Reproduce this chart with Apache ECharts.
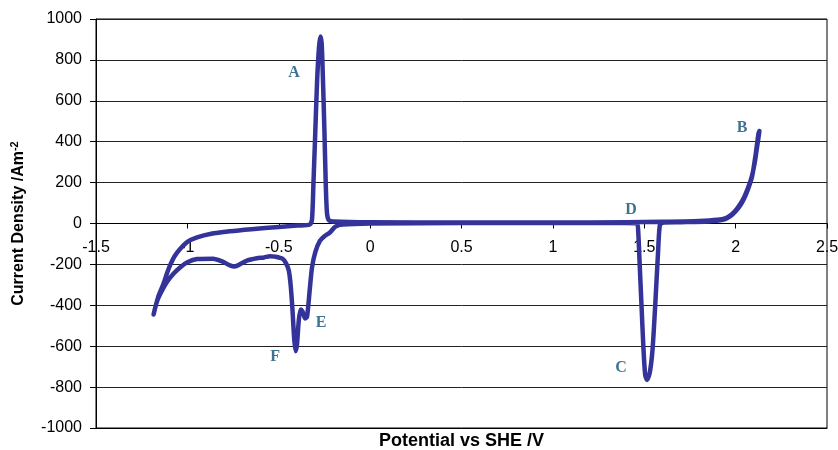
<!DOCTYPE html>
<html>
<head>
<meta charset="utf-8">
<script src="https://cdn.jsdelivr.net/npm/echarts@6/dist/echarts.min.js"></script>
<style>
  html, body { margin: 0; padding: 0; background: #fff; }
  #chart { width: 838px; height: 450px; }
</style>
</head>
<body>
<div id="chart"></div>
<script>
// Cyclic voltammogram: forward sweep from the cathodic vertex to B, then back.
const potential = [
  -1.185, -1.16, -1.133, -1.11, -1.095, -1.07, -1.04, -1.0, -0.947, -0.87,
  -0.767, -0.65, -0.5, -0.4, -0.33, -0.318, -0.31, -0.3, -0.29, -0.28,
  -0.272, -0.265, -0.258, -0.25, -0.243, -0.236, -0.225, -0.2, 0, 0.5,
  1.0, 1.4, 1.6, 1.8, 1.9, 1.95, 1.98, 2.01, 2.04, 2.07,
  2.09, 2.105, 2.115, 2.125, 2.13,
  2.125, 2.11, 2.09, 2.06, 2.03, 2.0, 1.97, 1.93, 1.85, 1.7,
  1.6, 1.585, 1.575, 1.56, 1.545, 1.53, 1.515, 1.505, 1.495, 1.485,
  1.475, 1.467, 1.46, 1.4, 1.0, 0.5, 0, -0.15, -0.19, -0.22,
  -0.25, -0.275, -0.3, -0.318, -0.33, -0.345, -0.355, -0.37, -0.38, -0.39,
  -0.4, -0.407, -0.415, -0.425, -0.435, -0.445, -0.46, -0.48, -0.52, -0.548,
  -0.58, -0.62, -0.674, -0.71, -0.74, -0.767, -0.81, -0.86, -0.947, -1.0,
  -1.04, -1.075, -1.11, -1.14, -1.166, -1.185
];
const current = [
  -445, -360, -300, -240, -205, -160, -125, -90, -68, -50,
  -38, -28, -17, -10, -5, 20, 200, 450, 700, 860,
  915, 880, 700, 450, 200, 50, 15, 10, 6, 5,
  5, 6, 8, 12, 18, 28, 45, 75, 117, 180,
  235, 300, 360, 420, 452,
  440, 340, 230, 150, 95, 60, 35, 18, 10, 6,
  4, -10, -150, -400, -620, -730, -765, -740, -600, -400,
  -200, -40, 0, 2, 2, 2, 0, -5, -15, -44,
  -62, -85, -140, -215, -320, -455, -465, -430, -420, -470,
  -590, -625, -570, -420, -300, -230, -195, -172, -162, -160,
  -166, -170, -181, -198, -210, -205, -185, -172, -174, -190,
  -215, -245, -284, -330, -380, -445
];

// Peak annotations
const peakNames = ['A', 'B', 'C', 'D', 'E', 'F'];
const peakX = [-0.417, 2.035, 1.373, 1.427, -0.269, -0.52];
const peakY = [738, 470, -704, 68, -484, -650];

const yTicks = [-1000, -800, -600, -400, -200, 0, 200, 400, 600, 800, 1000];

const curve = potential.map((v, i) => [v, current[i]]);
const notes = peakNames.map((n, i) => ({ value: [peakX[i], peakY[i]], name: n }));

const GRID_TOP = 19, GRID_BOTTOM = 22, HEIGHT = 450;
// distance from the bottom edge of the plot up to the zero-current line
const zeroLift = (HEIGHT - GRID_TOP - GRID_BOTTOM) / 2;

const font = 'Liberation Sans, Arial, sans-serif';

const chart = echarts.init(document.getElementById('chart'), null, { renderer: 'canvas' });
chart.setOption({
  animation: false,
  backgroundColor: '#ffffff',
  grid: {
    left: 96, right: 11, top: GRID_TOP, bottom: GRID_BOTTOM,
    containLabel: false,
    outerBoundsMode: 'none',
    show: true, borderColor: '#000', borderWidth: 1
  },
  xAxis: [
    {
      // bottom frame axis, carries only the title
      type: 'value',
      min: -1.5, max: 2.5, interval: 0.5,
      position: 'bottom',
      axisLine: { show: true, onZero: false, lineStyle: { color: '#000', width: 1 } },
      axisTick: { show: false },
      axisLabel: { show: false },
      splitLine: { show: false },
      name: 'Potential vs SHE /V',
      nameLocation: 'middle',
      nameGap: 4,
      nameTextStyle: { color: '#000', fontSize: 18, fontWeight: 'bold', fontFamily: font }
    },
    {
      // axis drawn along the zero-current line with its ticks and labels
      type: 'value',
      min: -1.5, max: 2.5, interval: 0.5,
      position: 'bottom',
      offset: -zeroLift,
      axisLine: { show: true, onZero: false, lineStyle: { color: '#000', width: 1 } },
      axisTick: { show: true, length: 5, lineStyle: { color: '#000' } },
      axisLabel: {
        color: '#000', fontSize: 16, margin: 16, fontFamily: font,
        showMaxLabel: true, showMinLabel: true
      },
      splitLine: { show: false }
    }
  ],
  yAxis: {
    type: 'value',
    min: -1000, max: 1000, interval: 200,
    axisLine: { show: true, onZero: false, lineStyle: { color: '#000', width: 1 } },
    axisTick: { show: true, length: 6, lineStyle: { color: '#000' } },
    axisLabel: {
      color: '#000', fontSize: 16, margin: 14, fontFamily: font,
      formatter: v => yTicks.includes(v) ? String(v) : ''
    },
    splitLine: { show: true, lineStyle: { color: '#222', width: 1 } },
    name: 'Current Density /Am{sup|-2}',
    nameLocation: 'middle',
    nameGap: 68,
    nameRotate: 90,
    nameTextStyle: {
      color: '#000', fontSize: 16, fontWeight: 'bold', fontFamily: font,
      rich: {
        sup: {
          fontSize: 11, fontWeight: 'bold', verticalAlign: 'top',
          padding: [0, 0, 8, 0], fontFamily: font, color: '#000'
        }
      }
    }
  },
  series: [
    {
      type: 'line',
      xAxisIndex: 0,
      data: curve,
      showSymbol: false,
      smooth: 0.25,
      lineStyle: { color: '#333399', width: 4.5, cap: 'round', join: 'round' },
      z: 3
    },
    {
      type: 'scatter',
      xAxisIndex: 0,
      data: notes,
      symbolSize: 0,
      label: {
        show: true,
        position: 'inside',
        formatter: p => p.name,
        color: '#0f4f74',
        fontSize: 16,
        fontWeight: 'bold',
        fontFamily: 'Liberation Serif, Times New Roman, serif'
      },
      z: 4
    }
  ]
});
</script>
</body>
</html>
